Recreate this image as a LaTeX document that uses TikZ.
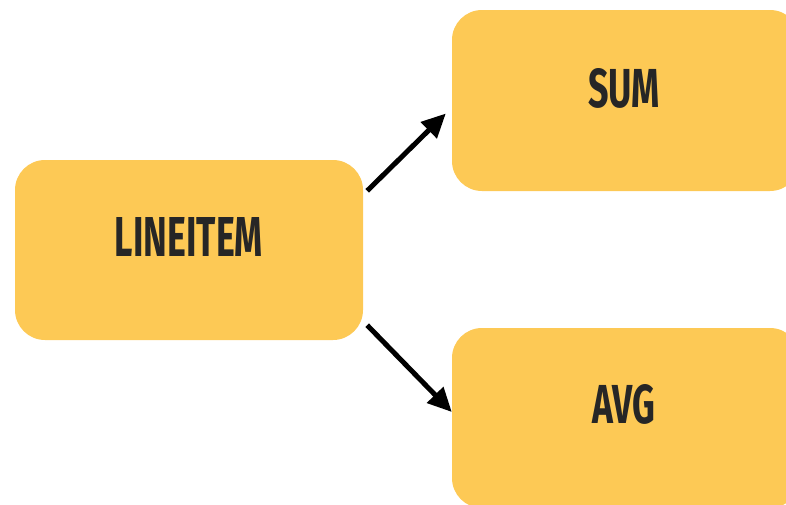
\documentclass[tikz,border=0pt]{standalone}
\usepackage{fontspec}
\setmainfont{Fira Sans}
\usetikzlibrary{arrows.meta}
\definecolor{boxfill}{HTML}{FDC955}
\definecolor{ink}{HTML}{262626}
\tikzset{
  box/.style={fill=boxfill, rounded corners=30pt, minimum width=348pt, minimum height=180pt, inner sep=0pt},
  lbl/.style={text=ink, inner sep=0pt, font=\bfseries},
  flow/.style={line width=5pt, -{Triangle[length=24pt,width=22pt]}}
}
\begin{document}
\begin{tikzpicture}[x=1pt, y=-1pt]
  \useasboundingbox (0,0) rectangle (786,504);
  \clip (0,0) rectangle (786,504);
  % the three yellow boxes
  \node[box] (li) at (189,250) {};
  \node[box, minimum height=181pt] (sum) at (626,100.5) {};
  \node[box] (avg) at (626,418) {};
  % their captions
  \node[lbl] (liT) at (189,237) {\resizebox{148pt}{39pt}{LINEITEM}};
  \node[lbl] (sumT) at (624,88) {\resizebox{72pt}{39pt}{SUM}};
  \node[lbl] (avgT) at (624,404) {\resizebox{63pt}{39pt}{AVG}};
  % connectors
  \draw[flow] ([shift={(4,31)}]li.north east) -- ([shift={(-6,13)}]sum.west);
  \draw[flow] ([shift={(4,-15)}]li.south east) -- ([shift={(0,-6)}]avg.west);
\end{tikzpicture}
\end{document}
